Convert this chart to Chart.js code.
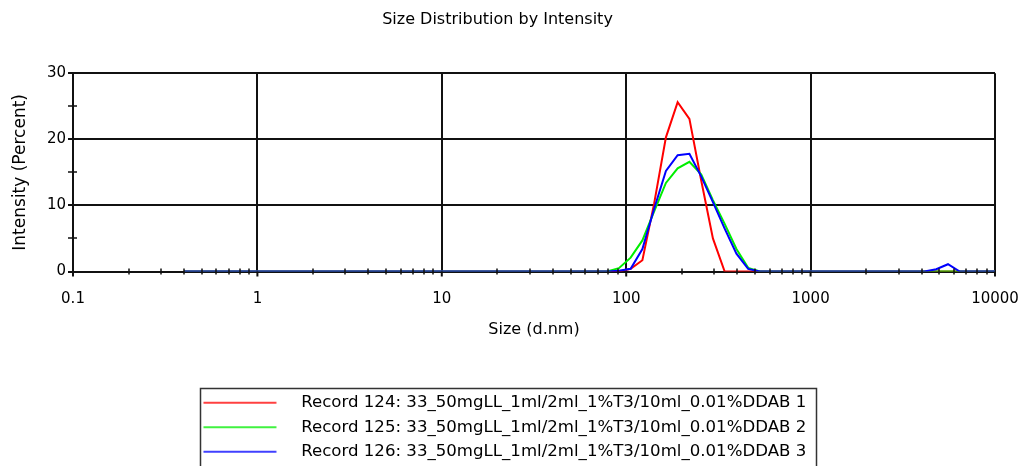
<!DOCTYPE html>
<html>
<head>
<meta charset="utf-8">
<script src="https://cdn.jsdelivr.net/npm/chart.js@4/dist/chart.umd.min.js"></script>
<style>
  html, body { margin: 0; padding: 0; background: #fff; }
  #wrap { width: 1023px; height: 466px; }
</style>
</head>
<body>
<div id="wrap"><canvas id="c" width="1023" height="466"></canvas></div>
<script>
// ---- data ----
const sizes = [0.4000, 0.4632, 0.5365, 0.6213, 0.7195, 0.8332, 0.9649, 1.117, 1.294, 1.499,
  1.736, 2.010, 2.328, 2.696, 3.122, 3.615, 4.187, 4.849, 5.615, 6.503,
  7.531, 8.721, 10.10, 11.70, 13.54, 15.69, 18.17, 21.04, 24.36, 28.21,
  32.67, 37.84, 43.82, 50.75, 58.77, 68.06, 78.82, 91.28, 105.7, 122.4,
  141.8, 164.2, 190.1, 220.2, 255.0, 295.3, 342.0, 396.1, 458.7, 531.2,
  615.1, 712.4, 825.0, 955.4, 1106, 1281, 1484, 1718, 1990, 2305,
  2669, 3091, 3580, 4145, 4801, 5560, 6439, 7456, 8635, 10000];

const record124 = [0, 0, 0, 0, 0, 0, 0, 0, 0, 0,
  0, 0, 0, 0, 0, 0, 0, 0, 0, 0,
  0, 0, 0, 0, 0, 0, 0, 0, 0, 0,
  0, 0, 0, 0, 0, 0, 0, 0, 0.4, 1.7,
  10.3, 20.3, 25.6, 23.1, 13.8, 5.0, 0, 0, 0, 0,
  0, 0, 0, 0, 0, 0, 0, 0, 0, 0,
  0, 0, 0, 0, 0, 0, 0, 0, 0, 0];

const record125 = [0, 0, 0, 0, 0, 0, 0, 0, 0, 0,
  0, 0, 0, 0, 0, 0, 0, 0, 0, 0,
  0, 0, 0, 0, 0, 0, 0, 0, 0, 0,
  0, 0, 0, 0, 0, 0, 0, 0.5, 2.1, 4.7,
  9.1, 13.4, 15.6, 16.6, 14.7, 10.8, 7.2, 3.4, 0.55, 0,
  0, 0, 0, 0, 0, 0, 0, 0, 0, 0,
  0, 0, 0, 0, 0, 0, 0, 0, 0, 0];

const record126 = [0, 0, 0, 0, 0, 0, 0, 0, 0, 0,
  0, 0, 0, 0, 0, 0, 0, 0, 0, 0,
  0, 0, 0, 0, 0, 0, 0, 0, 0, 0,
  0, 0, 0, 0, 0, 0, 0, 0.1, 0.4, 3.4,
  9.5, 15.2, 17.6, 17.8, 14.4, 10.5, 6.5, 2.7, 0.4, 0,
  0, 0, 0, 0, 0, 0, 0, 0, 0, 0,
  0, 0, 0, 0, 0.35, 1.1, 0, 0, 0, 0];

const seriesNames = [
  'Record 124: 33_50mgLL_1ml/2ml_1%T3/10ml_0.01%DDAB 1',
  'Record 125: 33_50mgLL_1ml/2ml_1%T3/10ml_0.01%DDAB 2',
  'Record 126: 33_50mgLL_1ml/2ml_1%T3/10ml_0.01%DDAB 3'
];

const xTickValues = [0.1, 1, 10, 100, 1000, 10000];
const xTickLabels = ['0.1', '1', '10', '100', '1000', '10000'];
const yMinorTicks = [5, 15, 25];
const xMinorMultipliers = [2, 3, 4, 5, 6, 7, 8, 9];

const chartTitle = 'Size Distribution by Intensity';
const xTitle = 'Size (d.nm)';
const yTitle = 'Intensity (Percent)';

// ---- styling ----
const FONT = "'DejaVu Sans', sans-serif";
const colors = ['#ff0000', '#00ee00', '#0000ff'];
const GRID = '#111111';

const SWATCH_W = 285, LINE_FROM = 195.5, LINE_TO = 268.5;
function swatch(color) {
  const c = document.createElement('canvas');
  c.width = SWATCH_W; c.height = 4;
  const g = c.getContext('2d');
  g.strokeStyle = color; g.lineWidth = 1.6;
  g.beginPath(); g.moveTo(LINE_FROM, 2); g.lineTo(LINE_TO, 2); g.stroke();
  return c;
}
const swatches = colors.map(swatch);

function toPoints(vals) { return sizes.map((s, i) => ({x: s, y: vals[i]})); }

const axisMarks = {
  id: 'axisMarks',
  afterDatasetsDraw(chart) {
    const {ctx, scales: {x, y}} = chart;
    ctx.save();
    ctx.strokeStyle = GRID;
    ctx.lineWidth = 1.5;
    ctx.beginPath();
    for (let d = 0; d < xTickValues.length - 1; d++) {
      for (const m of xMinorMultipliers) {
        const px = Math.round(x.getPixelForValue(xTickValues[d] * m));
        ctx.moveTo(px, y.bottom - 3);
        ctx.lineTo(px, y.bottom + 3);
      }
    }
    for (const v of yMinorTicks) {
      const py = Math.round(y.getPixelForValue(v));
      ctx.moveTo(x.left - 5, py);
      ctx.lineTo(x.left + 4, py);
    }
    ctx.stroke();
    ctx.lineWidth = 2;
    ctx.beginPath();
    for (const v of xTickValues) {
      const px = x.getPixelForValue(v);
      ctx.moveTo(px, y.bottom);
      ctx.lineTo(px, y.bottom + 5);
    }
    ctx.stroke();
    ctx.restore();
  }
};

const legendBorder = {
  id: 'legendBorder',
  afterDraw(chart) {
    const lg = chart.legend;
    if (!lg || !lg.legendHitBoxes || !lg.legendHitBoxes.length) return;
    const hb = lg.legendHitBoxes;
    const left = Math.min(...hb.map(h => h.left)) + LINE_FROM - 3;
    const right = Math.max(...hb.map(h => h.left + h.width)) + 10;
    const top = lg.top + 1.5;
    const ctx = chart.ctx;
    ctx.save();
    ctx.strokeStyle = '#333';
    ctx.lineWidth = 1.5;
    ctx.strokeRect(Math.round(left) + 0.5, Math.round(top) + 0.5, Math.round(right - left), chart.height + 10 - top);
    ctx.restore();
  }
};

new Chart(document.getElementById('c'), {
  type: 'line',
  data: {
    datasets: seriesNames.map((name, i) => ({
      label: name,
      data: toPoints([record124, record125, record126][i]),
      borderColor: colors[i],
      backgroundColor: colors[i],
      borderWidth: 2,
      pointRadius: 0,
      tension: 0,
      fill: false,
      order: 3 - i
    }))
  },
  options: {
    responsive: false,
    animation: false,
    devicePixelRatio: 1,
    layout: { padding: { left: 0, right: 28, top: 0, bottom: -4 } },
    plugins: {
      title: {
        display: true,
        text: chartTitle,
        color: '#000',
        font: { family: FONT, size: 16, weight: 'normal' },
        padding: { top: 10, bottom: 44 }
      },
      legend: {
        display: true,
        position: 'bottom',
        align: 'start',
        labels: {
          usePointStyle: true,
          pointStyleWidth: SWATCH_W,
          padding: 7.9,
          color: '#000',
          font: { family: FONT, size: 16.6 },
          sort: (a, b) => a.datasetIndex - b.datasetIndex,
          generateLabels(chart) {
            const items = Chart.defaults.plugins.legend.labels.generateLabels(chart);
            items.forEach(it => { it.pointStyle = swatches[it.datasetIndex]; });
            return items;
          }
        }
      },
      tooltip: { enabled: false }
    },
    scales: {
      x: {
        type: 'logarithmic',
        min: 0.1,
        max: 10000,
        afterBuildTicks(axis) { axis.ticks = xTickValues.map(v => ({ value: v })); },
        afterFit(s) { s.height = 115; },
        ticks: {
          autoSkip: false,
          maxRotation: 0,
          padding: 3,
          color: '#000',
          font: { family: FONT, size: 15 },
          callback: (v, i) => xTickLabels[i]
        },
        grid: { color: GRID, lineWidth: 2, tickLength: 16, tickColor: 'rgba(0,0,0,0)' },
        border: { color: GRID, width: 2 },
        title: {
          display: true,
          text: xTitle,
          color: '#000',
          font: { family: FONT, size: 16 },
          padding: { top: 0, bottom: 47 }
        }
      },
      y: {
        min: 0,
        max: 30,
        afterFit(s) { s.width = 73; },
        ticks: {
          stepSize: 10,
          padding: 2,
          color: '#000',
          font: { family: FONT, size: 15 }
        },
        grid: { color: GRID, lineWidth: 2, tickLength: 5, tickColor: GRID },
        border: { color: GRID, width: 2 },
        title: {
          display: true,
          text: yTitle,
          color: '#000',
          font: { family: FONT, size: 17 },
          padding: { top: 10, bottom: 0 }
        }
      }
    }
  },
  plugins: [axisMarks, legendBorder]
});
</script>
</body>
</html>
